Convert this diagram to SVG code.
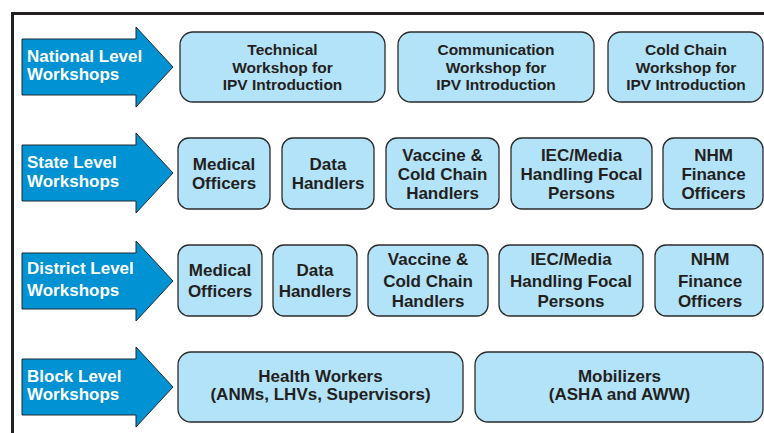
<svg xmlns="http://www.w3.org/2000/svg" width="764" height="433" viewBox="0 0 764 433">
<style>
.arrow{fill:#0092d2;stroke:#1f2a33;stroke-width:1}
.at{fill:#ffffff;font-family:"Liberation Sans",Arial,sans-serif;font-weight:bold;font-size:17px}
.box{fill:#b3e3f8;stroke:#2b2b2b;stroke-width:1.3}
.bt{fill:#231f20;font-family:"Liberation Sans",Arial,sans-serif;font-weight:bold;font-size:17px;text-anchor:middle}
.bt15{font-size:15.5px}
.frame{fill:none;stroke:#231f20;stroke-width:3}
</style>
<rect width="764" height="433" fill="#ffffff"/>
<path class="frame" d="M12.5,433 V13.5 H764"/>
<g id="connectors"></g>

<g id="national-level">
<path class="arrow" d="M22,39 H136 V27 L173,67 L136,107 V95 H22 Z"/>
<text class="at" x="27" y="62">National Level</text>
<text class="at" x="27" y="80">Workshops</text>
</g>
<g id="state-level">
<path class="arrow" d="M22,145 H136 V133 L173,173 L136,213 V201 H22 Z"/>
<text class="at" x="27" y="168">State Level</text>
<text class="at" x="27" y="187">Workshops</text>
</g>
<g id="district-level">
<path class="arrow" d="M22,253 H136 V241 L173,281 L136,321 V309 H22 Z"/>
<text class="at" x="27" y="274">District Level</text>
<text class="at" x="27" y="296">Workshops</text>
</g>
<g id="block-level">
<path class="arrow" d="M22,359 H136 V347 L173,387 L136,427 V415 H22 Z"/>
<text class="at" x="27" y="382">Block Level</text>
<text class="at" x="27" y="400">Workshops</text>
</g>

<g id="nat-technical">
<rect class="box" x="180" y="32" width="205" height="70" rx="13"/>
<text class="bt bt15" x="282.5" y="55">Technical</text>
<text class="bt bt15" x="282.5" y="73">Workshop for</text>
<text class="bt bt15" x="282.5" y="90">IPV Introduction</text>
</g>
<g id="nat-communication">
<rect class="box" x="398" y="32" width="196" height="70" rx="13"/>
<text class="bt bt15" x="496" y="55">Communication</text>
<text class="bt bt15" x="496" y="73">Workshop for</text>
<text class="bt bt15" x="496" y="90">IPV Introduction</text>
</g>
<g id="nat-coldchain">
<rect class="box" x="608" y="32" width="155" height="70" rx="13"/>
<text class="bt bt15" x="686" y="55">Cold Chain</text>
<text class="bt bt15" x="686" y="73">Workshop for</text>
<text class="bt bt15" x="686" y="90">IPV Introduction</text>
</g>

<g id="state-medical">
<rect class="box" x="178" y="138" width="92" height="71" rx="11"/>
<text class="bt" x="224" y="170">Medical</text>
<text class="bt" x="224" y="189">Officers</text>
</g>
<g id="state-data">
<rect class="box" x="282" y="138" width="92" height="71" rx="11"/>
<text class="bt" x="328" y="170">Data</text>
<text class="bt" x="328" y="189">Handlers</text>
</g>
<g id="state-vaccine">
<rect class="box" x="386" y="138" width="113" height="71" rx="11"/>
<text class="bt" x="442.5" y="161">Vaccine &amp;</text>
<text class="bt" x="442.5" y="180">Cold Chain</text>
<text class="bt" x="442.5" y="199">Handlers</text>
</g>
<g id="state-iec">
<rect class="box" x="511" y="138" width="141" height="71" rx="11"/>
<text class="bt" x="581.5" y="161">IEC/Media</text>
<text class="bt" x="581.5" y="180">Handling Focal</text>
<text class="bt" x="581.5" y="199">Persons</text>
</g>
<g id="state-nhm">
<rect class="box" x="663" y="138" width="100" height="71" rx="11"/>
<text class="bt" x="713.5" y="161">NHM</text>
<text class="bt" x="713.5" y="180">Finance</text>
<text class="bt" x="713.5" y="199">Officers</text>
</g>

<g id="district-medical">
<rect class="box" x="178" y="245" width="84" height="71" rx="11"/>
<text class="bt" x="220" y="276">Medical</text>
<text class="bt" x="220" y="297">Officers</text>
</g>
<g id="district-data">
<rect class="box" x="273" y="245" width="84" height="71" rx="11"/>
<text class="bt" x="315" y="276">Data</text>
<text class="bt" x="315" y="297">Handlers</text>
</g>
<g id="district-vaccine">
<rect class="box" x="368" y="245" width="120" height="71" rx="11"/>
<text class="bt" x="428" y="265">Vaccine &amp;</text>
<text class="bt" x="428" y="287">Cold Chain</text>
<text class="bt" x="428" y="307">Handlers</text>
</g>
<g id="district-iec">
<rect class="box" x="499" y="245" width="144" height="71" rx="11"/>
<text class="bt" x="571" y="265">IEC/Media</text>
<text class="bt" x="571" y="287">Handling Focal</text>
<text class="bt" x="571" y="307">Persons</text>
</g>
<g id="district-nhm">
<rect class="box" x="655" y="245" width="108" height="71" rx="11"/>
<text class="bt" x="710" y="265">NHM</text>
<text class="bt" x="710" y="287">Finance</text>
<text class="bt" x="710" y="307">Officers</text>
</g>

<g id="block-health">
<rect class="box" x="178" y="352" width="285" height="70" rx="13"/>
<text class="bt" x="320.5" y="382">Health Workers</text>
<text class="bt" x="320.5" y="400">(ANMs, LHVs, Supervisors)</text>
</g>
<g id="block-mobilizers">
<rect class="box" x="475" y="352" width="288" height="70" rx="13"/>
<text class="bt" x="619.5" y="382">Mobilizers</text>
<text class="bt" x="619.5" y="400">(ASHA and AWW)</text>
</g>
</svg>
